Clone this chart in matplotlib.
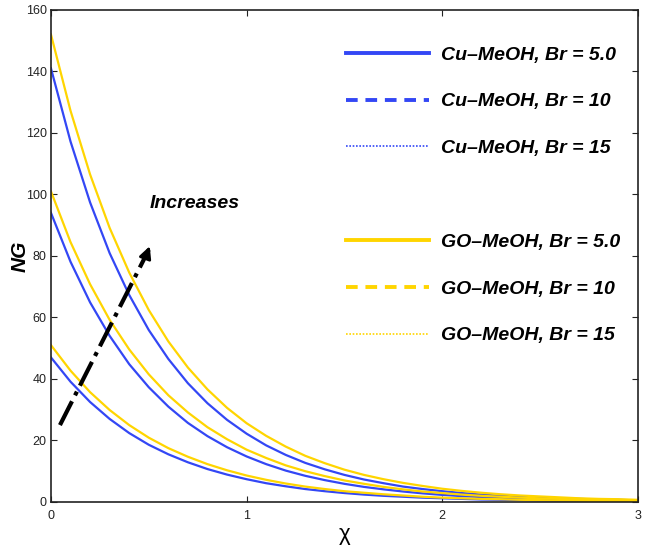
import numpy as np
import matplotlib
matplotlib.use('Agg')
import matplotlib.pyplot as plt
from matplotlib.lines import Line2D

plt.rcParams['font.family'] = ['Liberation Sans', 'DejaVu Sans']

# values (NG against chi)
chi = [0.0, 0.1, 0.2, 0.3, 0.4, 0.5, 0.6, 0.7, 0.8, 0.9, 1.0,
       1.1, 1.2, 1.3, 1.4, 1.5, 1.6, 1.7, 1.8, 1.9, 2.0,
       2.1, 2.2, 2.3, 2.4, 2.5, 2.6, 2.7, 2.8, 2.9, 3.0]

cu_br5 = [47, 39.1, 32.5, 27.0, 22.4, 18.6, 15.5, 12.9, 10.7, 8.9, 7.4,
          6.1, 5.1, 4.2, 3.5, 2.9, 2.4, 2.0, 1.7, 1.4, 1.2,
          1.0, 0.8, 0.7, 0.6, 0.5, 0.4, 0.3, 0.3, 0.2, 0.2]
cu_br10 = [94, 78.1, 64.9, 54.0, 44.8, 37.3, 31.0, 25.7, 21.4, 17.8, 14.8,
           12.3, 10.2, 8.5, 7.1, 5.9, 4.9, 4.1, 3.4, 2.8, 2.3,
           1.9, 1.6, 1.3, 1.1, 0.9, 0.8, 0.6, 0.5, 0.4, 0.4]
cu_br15 = [141, 117.2, 97.4, 80.9, 67.3, 55.9, 46.5, 38.6, 32.1, 26.7, 22.2,
           18.4, 15.3, 12.7, 10.6, 8.8, 7.3, 6.1, 5.0, 4.2, 3.5,
           2.9, 2.4, 2.0, 1.7, 1.4, 1.2, 1.0, 0.8, 0.7, 0.5]

go_br5 = [51, 42.7, 35.7, 29.9, 25.0, 20.9, 17.5, 14.7, 12.3, 10.3, 8.6,
          7.2, 6.0, 5.0, 4.2, 3.5, 3.0, 2.5, 2.1, 1.7, 1.4,
          1.2, 1.0, 0.9, 0.7, 0.6, 0.5, 0.4, 0.3, 0.3, 0.2]
go_br10 = [101, 84.5, 70.8, 59.2, 49.6, 41.5, 34.7, 29.1, 24.3, 20.4, 17.0,
           14.3, 11.9, 10.0, 8.4, 7.0, 5.9, 4.9, 4.1, 3.4, 2.9,
           2.4, 2.0, 1.7, 1.4, 1.2, 1.0, 0.8, 0.7, 0.6, 0.5]
go_br15 = [152, 127.2, 106.5, 89.1, 74.6, 62.4, 52.2, 43.7, 36.6, 30.6, 25.6,
           21.5, 18.0, 15.0, 12.6, 10.5, 8.8, 7.4, 6.2, 5.2, 4.3,
           3.6, 3.0, 2.5, 2.1, 1.8, 1.5, 1.2, 1.0, 0.9, 0.7]

cu_labels = ['Cu\u2013MeOH, Br = 5.0', 'Cu\u2013MeOH, Br = 10', 'Cu\u2013MeOH, Br = 15']
go_labels = ['GO\u2013MeOH, Br = 5.0', 'GO\u2013MeOH, Br = 10', 'GO\u2013MeOH, Br = 15']

# trend arrow (start, end) in data units
arrow_start = (0.046, 25)
arrow_end = (0.51, 84)

blue = '#3347f5'
yellow = '#ffd500'

fig = plt.figure(figsize=(6.45, 5.48), dpi=100)
ax = fig.add_axes([0.079, 0.084, 0.910, 0.898])

for ys in [cu_br5, cu_br10, cu_br15]:
  ax.plot(chi, ys, color=blue, lw=1.6)
for ys in [go_br5, go_br10, go_br15]:
  ax.plot(chi, ys, color=yellow, lw=1.6)

ax.plot([arrow_start[0], arrow_end[0] - 0.01], [arrow_start[1], arrow_end[1] - 2],
        color='k', lw=3, linestyle='-.')
ax.annotate('', xy=arrow_end, xytext=(arrow_end[0] - 0.03, arrow_end[1] - 5),
            arrowprops=dict(arrowstyle='-|>', color='k', lw=2, mutation_scale=18))
ax.text(0.505, 97, 'Increases', fontsize=14, fontweight='bold', style='italic',
        ha='left', va='center')

styles = ['-', (0, (3, 2)), (0, (1, 1))]
widths = [2.8, 2.8, 1.2]
handles = []
labels = []
for st, w, lab in zip(styles, widths, cu_labels):
  handles.append(Line2D([], [], color=blue, linestyle=st, lw=w))
  labels.append(lab)
handles.append(Line2D([], [], color='none'))
labels.append(' ')
for st, w, lab in zip(styles, widths, go_labels):
  handles.append(Line2D([], [], color=yellow, linestyle=st, lw=w))
  labels.append(lab)

leg = ax.legend(handles, labels, loc='upper right', bbox_to_anchor=(1.0, 0.962),
                frameon=False, handlelength=4.3, handletextpad=0.6,
                labelspacing=1.5, prop={'size': 14, 'weight': 'bold', 'style': 'italic'})

ax.set_xlim(0, 3)
ax.set_ylim(0, 160)
ax.set_xticks([0, 1, 2, 3])
ax.set_yticks(np.arange(0, 161, 20))
ax.tick_params(direction='in', length=4, labelsize=9, colors='#222222',
               top=True, right=True)
ax.tick_params(axis='y', pad=3)
ax.tick_params(axis='x', pad=6)
for s in ax.spines.values():
  s.set_linewidth(1.2)
  s.set_color('#222222')

ax.set_xlabel('\u03c7', fontsize=16, labelpad=1)
ax.set_ylabel('NG', fontsize=15, fontweight='bold', style='italic')
ax.yaxis.set_label_coords(-0.036, 0.5)

plt.savefig('out.png', dpi=100)
